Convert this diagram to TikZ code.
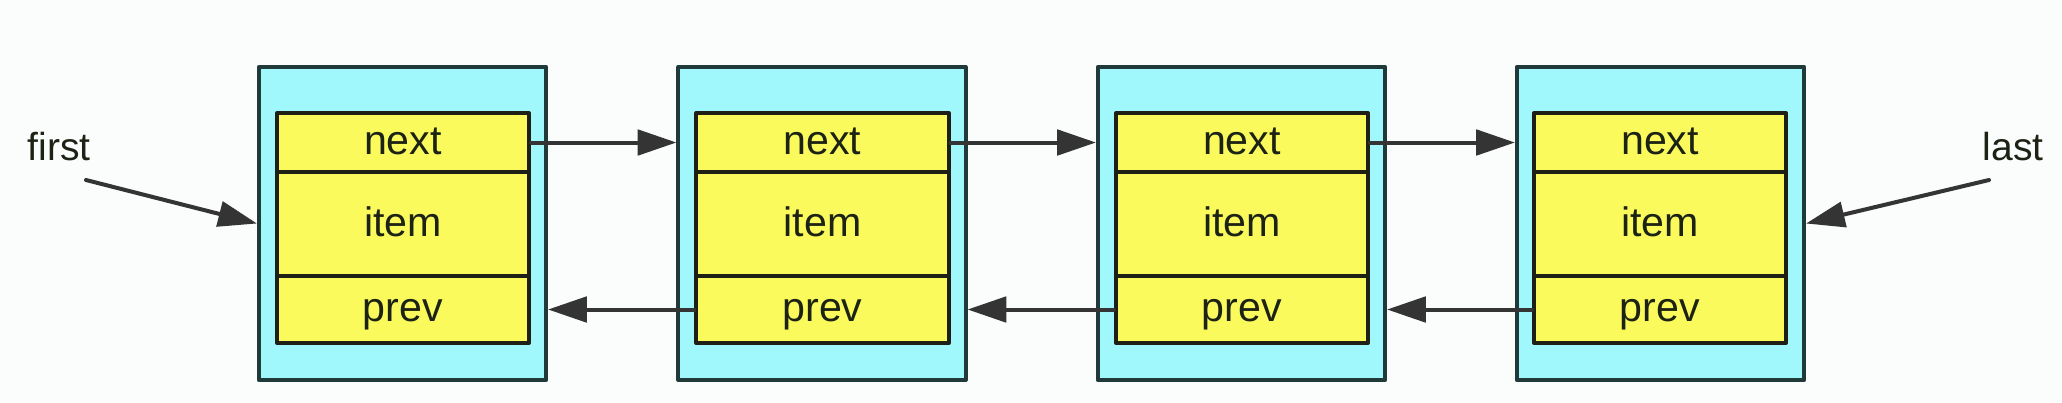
\documentclass[tikz,border=0pt]{standalone}
\usepackage{fontspec}
\setmainfont{Liberation Sans}
\usepackage{xcolor}
\usetikzlibrary{arrows.meta}
\definecolor{paper}{RGB}{251,252,252}
\definecolor{cellcyan}{RGB}{160,248,252}
\definecolor{boxedge}{RGB}{32,58,58}
\definecolor{cellyellow}{RGB}{250,250,92}
\definecolor{fieldedge}{RGB}{30,32,22}
\definecolor{textdark}{RGB}{28,34,20}
\definecolor{linkgray}{RGB}{52,52,52}

\begin{document}
\begin{tikzpicture}[line cap=round,line join=round,>={Triangle[length=11pt,width=7.2pt]},x=0.01cm,y=-0.01cm,
  outer/.style={draw=boxedge,fill=cellcyan,line width=1.14pt,minimum width=2.87cm,minimum height=3.13cm,inner sep=0pt},
  field/.style={draw=fieldedge,fill=cellyellow,line width=1.1pt,minimum width=2.52cm,inner sep=0pt,text height=8pt,text depth=1pt,font=\fontsize{11.7}{14}\selectfont,text=textdark},
  tag/.style={font=\fontsize{11.1}{13}\selectfont,inner sep=0pt,anchor=base west,text=textdark},
  link/.style={->,draw=linkgray,line width=1.14pt}]
\fill[paper] (0,0) rectangle (2062,402);
\useasboundingbox (0,0) rectangle (2062,402);
% nodes
\node[outer] (box1) at (402.5,223.5) {};
\node[field,minimum height=0.59cm] (next1) at (403,142.5) {next};
\node[field,minimum height=1.04cm] (item1) at (403,224) {item};
\node[field,minimum height=0.67cm] (prev1) at (403,309.5) {prev};
\node[outer] (box2) at (822,223.5) {};
\node[field,minimum height=0.59cm] (next2) at (822.5,142.5) {next};
\node[field,minimum height=1.04cm] (item2) at (822.5,224) {item};
\node[field,minimum height=0.67cm] (prev2) at (822.5,309.5) {prev};
\node[outer] (box3) at (1241.5,223.5) {};
\node[field,minimum height=0.59cm] (next3) at (1242,142.5) {next};
\node[field,minimum height=1.04cm] (item3) at (1242,224) {item};
\node[field,minimum height=0.67cm] (prev3) at (1242,309.5) {prev};
\node[outer] (box4) at (1660.5,223.5) {};
\node[field,minimum height=0.59cm] (next4) at (1660,142.5) {next};
\node[field,minimum height=1.04cm] (item4) at (1660,224) {item};
\node[field,minimum height=0.67cm] (prev4) at (1660,309.5) {prev};
\node[tag] (first) at (27,160) {first};
\node[tag] (last) at (1982,160) {last};
\coordinate (firsttail) at (86,180);
\coordinate (lasttail) at (1989,180);
% links
\draw[link] (next1.east) -- (next1.east -| box2.west);
\draw[link] (next2.east) -- (next2.east -| box3.west);
\draw[link] (next3.east) -- (next3.east -| box4.west);
\draw[link] (prev2.west) -- (prev2.west -| box1.east);
\draw[link] (prev3.west) -- (prev3.west -| box2.east);
\draw[link] (prev4.west) -- (prev4.west -| box3.east);
\draw[link] (firsttail) -- (box1.west);
\draw[link] (lasttail) -- (box4.east);
\end{tikzpicture}
\end{document}
